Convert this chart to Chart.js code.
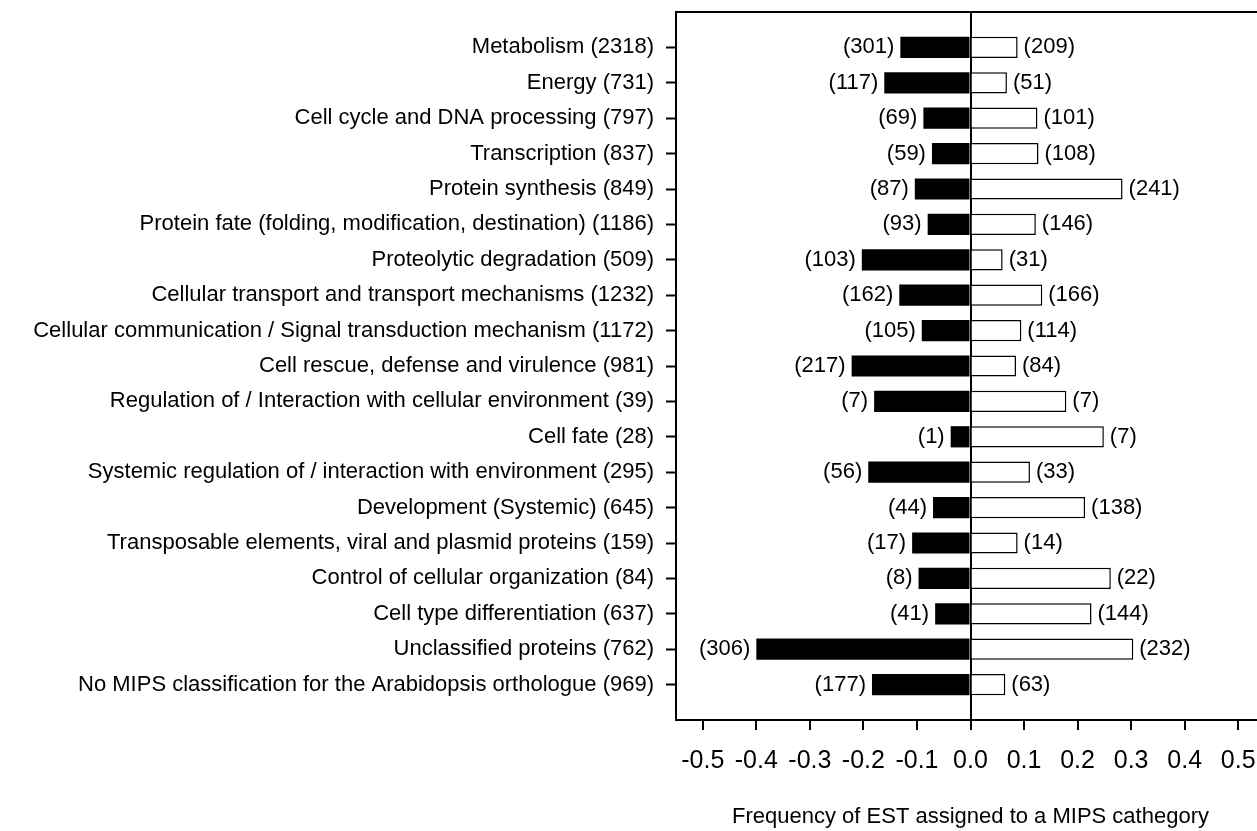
<!DOCTYPE html>
<html>
<head>
<meta charset="utf-8">
<script src="https://cdn.jsdelivr.net/npm/chart.js@4/dist/chart.umd.min.js"></script>
<style>
  html, body { margin: 0; padding: 0; background: #fff; overflow: hidden; }
  #wrap { width: 1280px; height: 831px; }
</style>
</head>
<body>
<div id="wrap"><canvas id="mipsChart"></canvas></div>
<script>
const categories = [
    "Metabolism (2318)",
    "Energy (731)",
    "Cell cycle and DNA processing (797)",
    "Transcription (837)",
    "Protein synthesis (849)",
    "Protein fate (folding, modification, destination) (1186)",
    "Proteolytic degradation (509)",
    "Cellular transport and transport mechanisms (1232)",
    "Cellular communication / Signal transduction mechanism (1172)",
    "Cell rescue, defense and virulence (981)",
    "Regulation of / Interaction with cellular environment (39)",
    "Cell fate (28)",
    "Systemic regulation of / interaction with environment (295)",
    "Development (Systemic) (645)",
    "Transposable elements, viral and plasmid proteins (159)",
    "Control of cellular organization (84)",
    "Cell type differentiation (637)",
    "Unclassified proteins (762)",
    "No MIPS classification for the Arabidopsis orthologue (969)"
];

// black bars (left side)
const negFreq = [-0.131, -0.161, -0.088, -0.072, -0.104, -0.080, -0.203, -0.133, -0.091, -0.222,
                 -0.180, -0.037, -0.191, -0.070, -0.109, -0.097, -0.066, -0.400, -0.184];
const negCounts = [301, 117, 69, 59, 87, 93, 103, 162, 105, 217, 7, 1, 56, 44, 17, 8, 41, 306, 177];

// white bars (right side)
const posFreq = [0.088, 0.068, 0.125, 0.127, 0.284, 0.122, 0.060, 0.134, 0.095, 0.085,
                 0.179, 0.249, 0.111, 0.214, 0.088, 0.262, 0.226, 0.304, 0.065];
const posCounts = [209, 51, 101, 108, 241, 146, 31, 166, 114, 84, 7, 7, 33, 138, 14, 22, 144, 232, 63];

const xTicks = [-0.5, -0.4, -0.3, -0.2, -0.1, 0.0, 0.1, 0.2, 0.3, 0.4, 0.5];

const FONT = '"Liberation Sans", Arial, sans-serif';

// (n) labels next to each bar
const valueLabels = {
    id: 'valueLabels',
    afterDatasetsDraw(chart) {
        const ctx = chart.ctx;
        ctx.save();
        ctx.font = '22px ' + FONT;
        ctx.fillStyle = '#000';
        ctx.textBaseline = 'middle';
        [negCounts, posCounts].forEach((counts, d) => {
            chart.getDatasetMeta(d).data.forEach((bar, i) => {
                ctx.textAlign = d === 0 ? 'right' : 'left';
                ctx.fillText('(' + counts[i] + ')', bar.x + (d === 0 ? -6 : 6), bar.y);
            });
        });
        ctx.restore();
    }
};

new Chart(document.getElementById('mipsChart'), {
    type: 'bar',
    data: {
        datasets: [{
            data: negFreq.map((v, i) => ({x: v, y: i})),
            backgroundColor: '#000',
            borderWidth: 0,
            xAxisID: 'x',
            yAxisID: 'y'
        }, {
            data: posFreq.map((v, i) => ({x: v, y: i})),
            backgroundColor: '#fff',
            borderColor: '#000',
            borderWidth: 1.5,
            xAxisID: 'x',
            yAxisID: 'y'
        }]
    },
    options: {
        indexAxis: 'y',
        responsive: true,
        maintainAspectRatio: false,
        animation: false,
        categoryPercentage: 1,
        barPercentage: 0.6,
        layout: { padding: { left: 0, right: 15, top: 12, bottom: 0 } },
        plugins: {
            legend: { display: false },
            tooltip: { enabled: false }
        },
        scales: {
            x: {
                type: 'linear',
                position: 'bottom',
                stacked: true,
                min: -0.55,
                max: 0.55,
                afterBuildTicks: s => { s.ticks = xTicks.map(v => ({value: v})); },
                afterFit: s => { s.height = 111; s.paddingLeft = 0; s.paddingRight = 0; },
                ticks: {
                    color: '#000',
                    font: { family: FONT, size: 25 },
                    padding: 16,
                    maxRotation: 0,
                    autoSkip: false,
                    callback: v => v.toFixed(1)
                },
                grid: {
                    color: c => (c.tick && c.tick.value === 0) ? '#000' : 'rgba(0,0,0,0)',
                    lineWidth: 2,
                    tickColor: '#000',
                    tickWidth: 2,
                    tickLength: 10
                },
                border: { display: true, color: '#000', width: 2 },
                title: {
                    display: true,
                    text: 'Frequency of EST assigned to a MIPS cathegory',
                    color: '#000',
                    font: { family: FONT, size: 22 },
                    padding: { top: 0, bottom: 1 }
                }
            },
            x2: {
                type: 'linear',
                axis: 'x',
                position: 'top',
                min: -0.55,
                max: 0.55,
                afterFit: s => { s.height = 0; s.paddingLeft = 0; s.paddingRight = 0; },
                ticks: { display: false },
                grid: { display: false, drawTicks: false },
                border: { display: true, color: '#000', width: 2 }
            },
            y: {
                type: 'linear',
                stacked: true,
                reverse: true,
                offset: false,
                min: -1,
                max: 19,
                afterBuildTicks: s => { s.ticks = categories.map((_, i) => ({value: i})); },
                afterFit: s => { s.width = 676; s.paddingTop = 0; s.paddingBottom = 0; },
                ticks: {
                    color: '#000',
                    font: { family: FONT, size: 22 },
                    padding: 12,
                    autoSkip: false,
                    callback: v => categories[v]
                },
                grid: {
                    offset: false,
                    drawOnChartArea: false,
                    tickColor: '#000',
                    tickWidth: 2,
                    tickLength: 10
                },
                border: { display: true, color: '#000', width: 2 }
            }
        }
    },
    plugins: [valueLabels]
});
</script>
</body>
</html>
